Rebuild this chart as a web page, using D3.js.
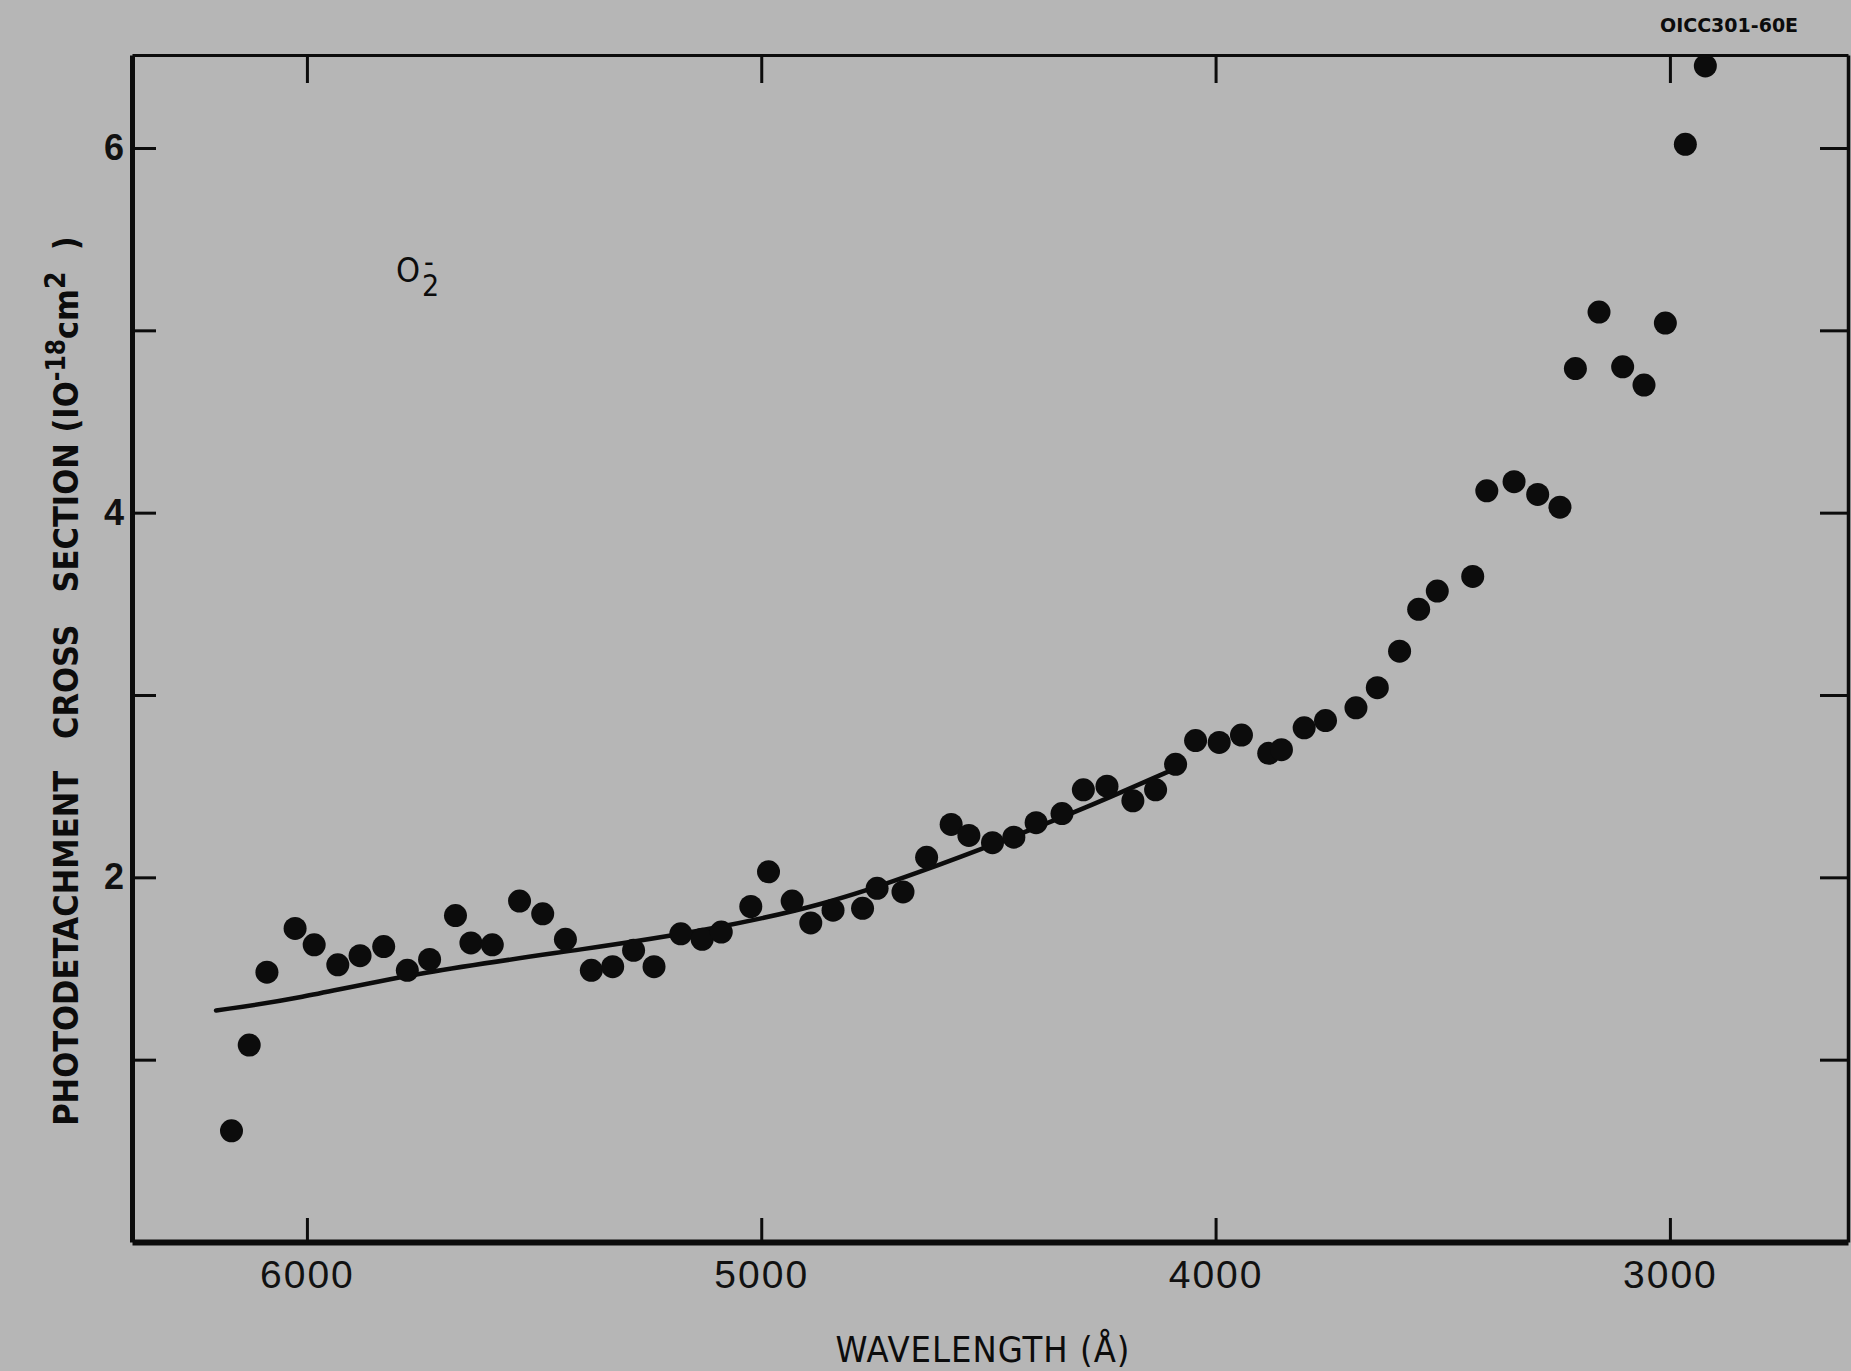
<!DOCTYPE html>
<html>
<head>
<meta charset="utf-8">
<script src="https://cdn.jsdelivr.net/npm/d3@7"></script>
<style>
  body { margin: 0; background: #b6b6b6; }
  svg { display: block; }
  .axis text { font-family: "Liberation Sans", "DejaVu Sans", sans-serif; fill: #111; }
</style>
</head>
<body>
<div id="chart"></div>
<script>
var width = 1851;
var height = 1371;

// frame of the plot, in pixels
var plotLeft = 132, plotRight = 1848, plotTop = 55, plotBottom = 1242;

// O2- photodetachment points
var wavelength = [6166, 6127, 6088, 6026, 5984, 5932, 5883, 5831, 5779, 5730,
    5673, 5639, 5592, 5532, 5481, 5431, 5374, 5327, 5281, 5236,
    5177, 5130, 5088, 5023, 4984, 4932, 4891, 4842, 4777, 4745,
    4688, 4636, 4582, 4543, 4491, 4444, 4395, 4338, 4291, 4239,
    4182, 4132, 4088, 4044, 3992, 3943, 3883, 3855, 3805, 3758,
    3691, 3644, 3595, 3553, 3512, 3434, 3403, 3343, 3291, 3242,
    3208, 3156, 3104, 3057, 3010, 2966, 2922];
var crossSection = [0.61, 1.08, 1.48, 1.72, 1.63, 1.52, 1.57, 1.62, 1.49, 1.55,
    1.79, 1.64, 1.63, 1.87, 1.80, 1.66, 1.49, 1.51, 1.60, 1.51,
    1.69, 1.66, 1.70, 1.84, 2.03, 1.87, 1.75, 1.82, 1.83, 1.94,
    1.92, 2.11, 2.29, 2.23, 2.19, 2.22, 2.30, 2.35, 2.48, 2.50,
    2.42, 2.48, 2.62, 2.75, 2.74, 2.78, 2.68, 2.70, 2.82, 2.86,
    2.93, 3.04, 3.24, 3.47, 3.57, 3.65, 4.12, 4.17, 4.10, 4.03,
    4.79, 5.10, 4.80, 4.70, 5.04, 6.02, 6.45];

// smooth curve drawn through the lower part
var fitWavelength = [6200, 6026, 5756, 5377, 5117, 4857, 4649, 4468, 4286, 4104];
var fitValue = [1.27, 1.33, 1.48, 1.61, 1.71, 1.85, 2.03, 2.20, 2.38, 2.58];

var xTicks = [6000, 5000, 4000, 3000];
var yTicks = [1, 2, 3, 4, 5, 6];
var yLabels = [2, 4, 6];

var ink = "#0c0c0c";
var narrow = '"Liberation Sans Narrow", "DejaVu Sans Condensed", "Liberation Sans", sans-serif';

/* Scale */
var xScale = d3.scaleLinear()
    .domain([6385, 2608])
    .range([plotLeft, plotRight]);

var yScale = d3.scaleLinear()
    .domain([0, 6.51])
    .range([plotBottom, plotTop]);

var svg = d3.select("#chart").append("svg")
    .attr("width", width)
    .attr("height", height);

svg.append("rect")
    .attr("width", width)
    .attr("height", height)
    .attr("fill", "#b6b6b6");

/* Axes, ticks pointing inward */
var xBottom = svg.append("g")
    .attr("class", "axis")
    .attr("transform", `translate(0, ${plotBottom})`)
    .call(d3.axisBottom(xScale).tickValues(xTicks).tickSize(-24).tickSizeOuter(0).tickPadding(18)
        .tickFormat(d3.format("d")));

var xTop = svg.append("g")
    .attr("class", "axis")
    .attr("transform", `translate(0, ${plotTop})`)
    .call(d3.axisTop(xScale).tickValues(xTicks).tickSize(-28).tickSizeOuter(0).tickFormat(""));

var yLeft = svg.append("g")
    .attr("class", "axis")
    .attr("transform", `translate(${plotLeft}, 0)`)
    .call(d3.axisLeft(yScale).tickValues(yTicks).tickSize(-24).tickSizeOuter(0).tickPadding(8)
        .tickFormat(d => yLabels.includes(d) ? d : ""));

var yRight = svg.append("g")
    .attr("class", "axis")
    .attr("transform", `translate(${plotRight}, 0)`)
    .call(d3.axisRight(yScale).tickValues(yTicks).tickSize(-28).tickSizeOuter(0).tickFormat(""));

svg.selectAll(".axis .tick line")
    .attr("stroke", ink)
    .attr("stroke-width", 3);

xBottom.select(".domain").attr("stroke", ink).attr("stroke-width", 6);
xTop.select(".domain").attr("stroke", ink).attr("stroke-width", 3);
yLeft.select(".domain").attr("stroke", ink).attr("stroke-width", 5);
yRight.select(".domain").attr("stroke", ink).attr("stroke-width", 3.5);

xBottom.selectAll(".tick text")
    .attr("font-size", 39)
    .attr("letter-spacing", 2);

yLeft.selectAll(".tick text")
    .attr("font-family", narrow)
    .attr("font-size", 36)
    .attr("font-weight", "bold");

/* Fitted curve */
var line = d3.line()
    .x(d => xScale(d[0]))
    .y(d => yScale(d[1]))
    .curve(d3.curveBasis);

svg.append("path")
    .datum(d3.zip(fitWavelength, fitValue))
    .attr("d", line)
    .attr("fill", "none")
    .attr("stroke", ink)
    .attr("stroke-width", 4.5)
    .attr("stroke-linecap", "round");

/* Points */
svg.append("g")
    .selectAll("circle")
    .data(d3.zip(wavelength, crossSection)).enter()
    .append("circle")
    .attr("cx", d => xScale(d[0]))
    .attr("cy", d => yScale(d[1]))
    .attr("r", 11.5)
    .attr("fill", ink);

/* Labels */
svg.append("text")
    .attr("x", 983)
    .attr("y", 1362)
    .attr("text-anchor", "middle")
    .attr("font-family", narrow)
    .attr("font-size", 36)
    .attr("letter-spacing", 1)
    .attr("fill", ink)
    .text("WAVELENGTH (Å)");

var yTitle = svg.append("text")
    .attr("transform", "translate(78, 681) rotate(-90)")
    .attr("text-anchor", "middle")
    .attr("font-family", narrow)
    .attr("font-size", 34)
    .attr("font-weight", "bold")
    .attr("fill", ink)
    .attr("xml:space", "preserve");
yTitle.append("tspan").text("PHOTODETACHMENT   CROSS   SECTION (IO");
yTitle.append("tspan").attr("dy", -13).attr("font-size", 26).text("-18");
yTitle.append("tspan").attr("dy", 13).text("cm");
yTitle.append("tspan").attr("dy", -13).attr("font-size", 28).text("2");
yTitle.append("tspan").attr("dy", 13).text("  )");

var ion = svg.append("text")
    .attr("x", 396)
    .attr("y", 282)
    .attr("font-family", narrow)
    .attr("font-size", 34)
    .attr("fill", ink);
ion.append("tspan").text("O");
ion.append("tspan").attr("dy", 14).attr("dx", 2).attr("font-size", 30).text("2");

svg.append("text")
    .attr("x", 424)
    .attr("y", 272)
    .attr("font-family", narrow)
    .attr("font-size", 30)
    .attr("fill", ink)
    .text("-");

svg.append("text")
    .attr("x", 1660)
    .attr("y", 32)
    .attr("font-family", '"DejaVu Sans", sans-serif')
    .attr("font-size", 19)
    .attr("font-weight", "bold")
    .attr("fill", ink)
    .text("OICC301-60E");
</script>
</body>
</html>
